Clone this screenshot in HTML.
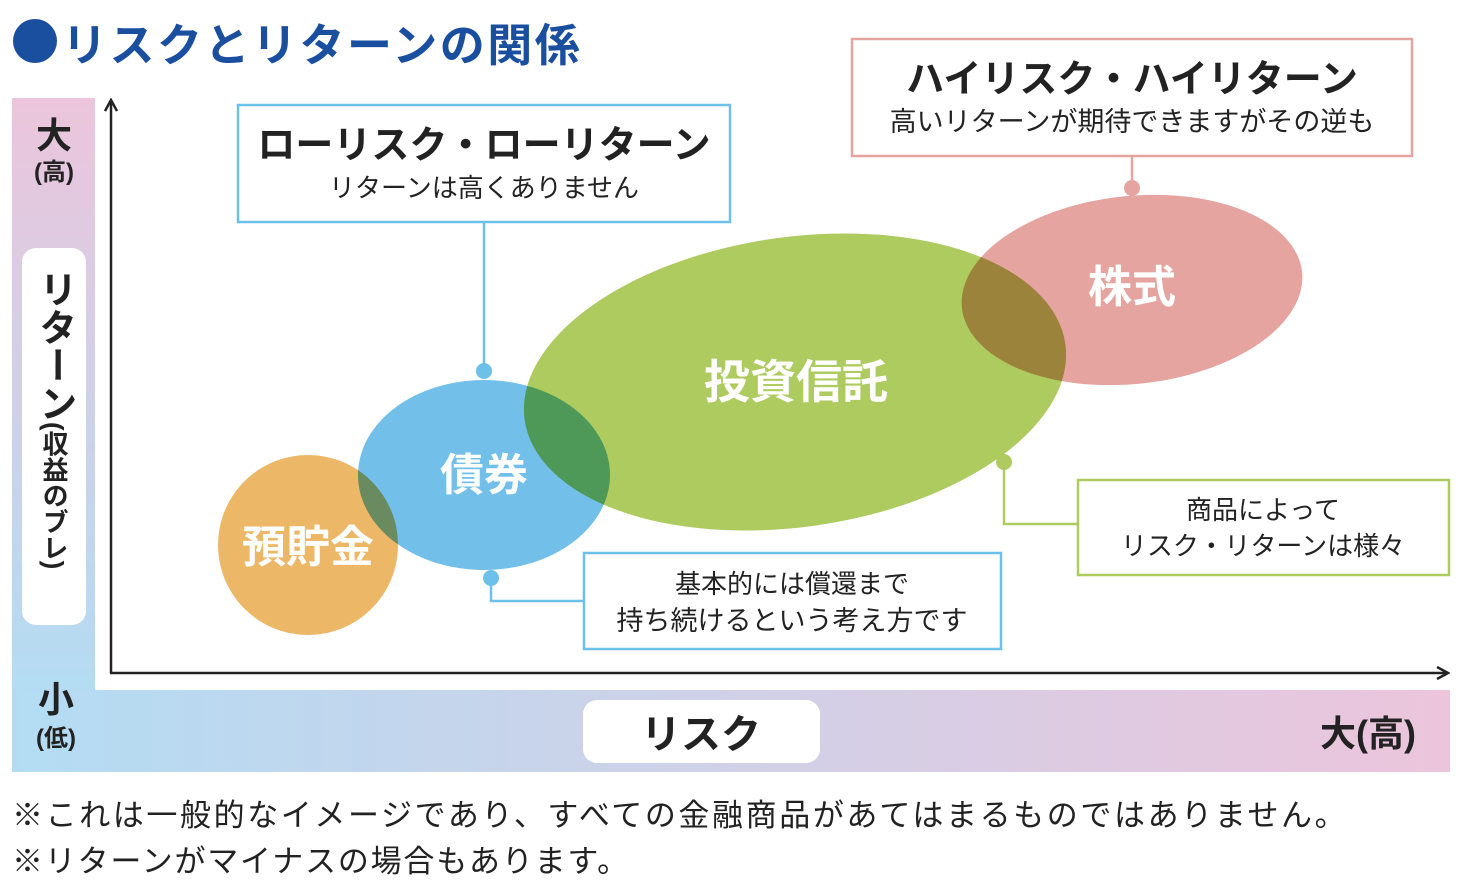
<!DOCTYPE html>
<html><head><meta charset="utf-8"><style>
html,body{margin:0;padding:0;background:#fff;}
svg{display:block;font-family:"Liberation Sans","Noto Sans CJK JP",sans-serif;}
</style></head><body>
<svg width="1468" height="892" viewBox="0 0 1468 892" xmlns="http://www.w3.org/2000/svg">
<defs>
<linearGradient id="gv" x1="0" y1="0" x2="0" y2="1">
<stop offset="0" stop-color="#ecc5dc"/><stop offset="1" stop-color="#b3dcf3"/></linearGradient>
<linearGradient id="gh" x1="0" y1="0" x2="1" y2="0">
<stop offset="0" stop-color="#b3dcf3"/><stop offset="1" stop-color="#ecc5dc"/></linearGradient>
<marker id="ah" markerWidth="14" markerHeight="14" refX="12" refY="7" orient="auto" markerUnits="userSpaceOnUse">
<path d="M1,1 L12,7 L1,13" fill="none" stroke="#222" stroke-width="2.5"/></marker>
</defs>
<!-- title -->
<circle cx="35" cy="41" r="22" fill="#1a4fa0"/>
<text x="62" y="61" font-size="45" font-weight="bold" fill="#1a4fa0" letter-spacing="2.5">リスクとリターンの関係</text>
<!-- side bars -->
<rect x="12" y="98" width="83" height="594" fill="url(#gv)"/>
<rect x="12" y="690" width="1438" height="82" fill="url(#gh)"/>
<rect x="22" y="248" width="64" height="377" rx="14" fill="#fff"/>
<text x="54" y="148" font-size="36" font-weight="bold" text-anchor="middle" fill="#222">大</text>
<text x="54" y="180" font-size="24" font-weight="bold" text-anchor="middle" fill="#222">(高)</text>
<text x="56" y="712" font-size="36" font-weight="bold" text-anchor="middle" fill="#222">小</text>
<text x="56" y="746" font-size="24" font-weight="bold" text-anchor="middle" fill="#222">(低)</text>
<text font-size="38" font-weight="bold" fill="#222" x="54" y="270" style="writing-mode:vertical-rl">リターン<tspan font-size="26">(収益のブレ)</tspan></text>
<rect x="583" y="700" width="237" height="63" rx="14" fill="#fff"/>
<text x="701" y="748" font-size="40" font-weight="bold" text-anchor="middle" fill="#222">リスク</text>
<text x="1416" y="746" font-size="36" font-weight="bold" text-anchor="end" fill="#222">大(高)</text>
<!-- axes -->
<line x1="111" y1="673" x2="111" y2="100" stroke="#222" stroke-width="2.5" marker-end="url(#ah)"/>
<line x1="110" y1="673" x2="1448" y2="673" stroke="#222" stroke-width="2.5" marker-end="url(#ah)"/>
<!-- ellipses -->
<g>
<circle cx="308" cy="545" r="90" fill="#ecb767"/>
<ellipse cx="484" cy="475" rx="126" ry="95" fill="#72c0ea" style="mix-blend-mode:multiply"/>
<ellipse cx="795" cy="382" rx="273" ry="145" transform="rotate(-8 795 382)" fill="#aecb60" style="mix-blend-mode:multiply"/>
<ellipse cx="1132" cy="290" rx="171" ry="94" transform="rotate(-6 1132 290)" fill="#e5a4a0" style="mix-blend-mode:multiply"/>
</g>
<text x="308" y="562" font-size="44" font-weight="bold" text-anchor="middle" fill="#fff">預貯金</text>
<text x="484" y="490" font-size="44" font-weight="bold" text-anchor="middle" fill="#fff">債券</text>
<text x="796" y="398" font-size="46" font-weight="bold" text-anchor="middle" fill="#fff">投資信託</text>
<text x="1132" y="302" font-size="44" font-weight="bold" text-anchor="middle" fill="#fff">株式</text>
<!-- callouts -->
<rect x="238" y="105" width="492" height="117" fill="#fff" stroke="#6cc0ea" stroke-width="2.5"/>
<text x="484" y="158" font-size="38" font-weight="bold" text-anchor="middle" fill="#222">ローリスク・ローリターン</text>
<text x="484" y="197" font-size="26" text-anchor="middle" fill="#222">リターンは高くありません</text>
<line x1="484" y1="222" x2="484" y2="371" stroke="#6cc0ea" stroke-width="2.5"/>
<circle cx="484" cy="371" r="8" fill="#6cc0ea"/>

<rect x="852" y="39" width="560" height="117" fill="#fff" stroke="#e5a4a0" stroke-width="2.5"/>
<text x="1132" y="92" font-size="38" font-weight="bold" text-anchor="middle" fill="#222">ハイリスク・ハイリターン</text>
<text x="1132" y="131" font-size="27" text-anchor="middle" fill="#222">高いリターンが期待できますがその逆も</text>
<line x1="1132" y1="156" x2="1132" y2="188" stroke="#e5a4a0" stroke-width="2.5"/>
<circle cx="1132" cy="188" r="8" fill="#e5a4a0"/>

<rect x="584" y="553" width="417" height="96" fill="#fff" stroke="#6cc0ea" stroke-width="2.5"/>
<text x="792" y="593" font-size="26" text-anchor="middle" fill="#222">基本的には償還まで</text>
<text x="792" y="630" font-size="27" text-anchor="middle" fill="#222">持ち続けるという考え方です</text>
<polyline points="491,578 491,601 584,601" fill="none" stroke="#6cc0ea" stroke-width="2.5"/>
<circle cx="491" cy="578" r="8" fill="#6cc0ea"/>

<rect x="1078" y="480" width="371" height="95" fill="#fff" stroke="#aecb60" stroke-width="2.5"/>
<text x="1263" y="519" font-size="26" text-anchor="middle" fill="#222">商品によって</text>
<text x="1263" y="555" font-size="26" text-anchor="middle" fill="#222">リスク・リターンは様々</text>
<polyline points="1004,462 1004,524 1078,524" fill="none" stroke="#aecb60" stroke-width="2.5"/>
<circle cx="1004" cy="462" r="8" fill="#aecb60"/>
<!-- footer -->
<text x="12" y="826" font-size="31" fill="#222" letter-spacing="2.6">※これは一般的なイメージであり、すべての金融商品があてはまるものではありません。</text>
<text x="12" y="872" font-size="31" fill="#222" letter-spacing="1.8">※リターンがマイナスの場合もあります。</text>
</svg>
</body></html>
